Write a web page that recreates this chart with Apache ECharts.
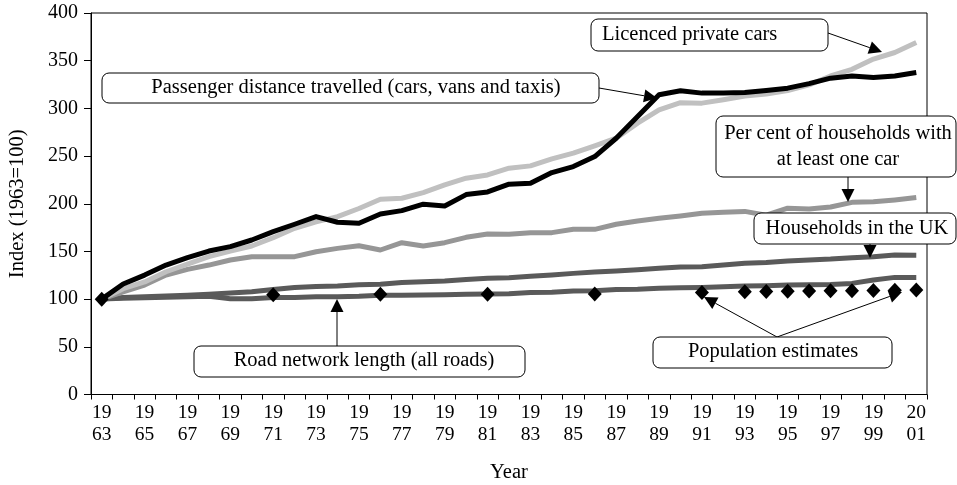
<!DOCTYPE html>
<html><head><meta charset="utf-8">
<script src="https://cdn.jsdelivr.net/npm/echarts@6/dist/echarts.min.js"></script>
<style>html,body{margin:0;padding:0;background:#fff}#c{width:957px;height:485px}</style>
</head><body><div id="c"></div>
<script>
const years = ['1963','1964','1965','1966','1967','1968','1969','1970','1971','1972','1973','1974','1975','1976','1977','1978','1979','1980','1981','1982','1983','1984','1985','1986','1987','1988','1989','1990','1991','1992','1993','1994','1995','1996','1997','1998','1999','2000','2001'];
const licencedCars = [100,111,118,128.7,136.8,144.5,150.4,155.7,164.4,174.3,181,186.5,195,204.7,205.8,211.7,219.7,226.8,230.2,237.3,239.7,247,253,260.7,268.7,284.5,298.5,306,305.5,309,313,315,318.7,324.7,334,341,351.7,358.6,369];
const passengerDistance = [100,115.8,125.2,135.7,143.4,150.4,155,162,170.7,178.5,186.5,180.6,179.5,189.3,192.8,199.5,197.7,209.6,212.4,220.5,221.5,232.7,239,249.5,268.7,291.5,314.2,318.4,316,316,316.7,318.8,321.2,326,331.7,334,332.4,334,337.6];
const carHouseholds = [100,107.7,114.7,125.2,131.2,135.7,141,144.5,144.5,144.5,149.7,153.2,156,151.5,159.2,155.7,159.2,164.8,168.3,168,169.7,169.7,173.2,173.2,178.5,182,184.8,187.2,190,191,192,188,195.3,194.5,196.6,201.5,202,204,206.5];
const householdsUK = [100,101.8,102.5,103.2,104,105,106.3,107.7,110.2,112.3,113.3,113.7,115,115.7,117.5,118.2,119,120.7,122,122.4,123.9,125.3,127,128.4,129.5,130.9,132.3,133.7,134,135.7,137.5,138.5,140,141,142,143.5,144.5,146.2,146];
const roadLength = [100,101,101.5,102,102.5,103,100.3,100.5,101.8,101.8,102.5,102.5,103,104,104,104.3,104.5,105,105.3,105.6,107,107.3,108.5,108.7,110,110.3,111.3,112,112.3,113,113.7,114,114.7,115,115.4,116.5,120,122.8,122.8];
const popYears = ['1963','1971','1976','1981','1986','1991','1993','1994','1995','1996','1997','1998','1999','2000','2001'];
const popValues = [100,104.5,105,105,105.5,107,107.8,108,108.3,108.5,108.7,108.8,109,109.2,109.5];
const yTicks = [0,50,100,150,200,250,300,350,400];

const FONT = '"Liberation Serif", "Times New Roman", serif';
const chart = echarts.init(document.getElementById('c'), null, {renderer:'canvas'});

function lineSeries(name, data, color, z){
  return {name, type:'line', data, symbol:'none', z,
    lineStyle:{color, width:5, join:'round'}, itemStyle:{color}, animation:false};
}

function box(x, y, w, h){
  return {type:'rect', z:100, shape:{x, y, width:w, height:h, r:7},
    style:{fill:'#fff', stroke:'#000', lineWidth:1}};
}
function txt(x, y, text, align){
  return {type:'text', z:101, x, y,
    style:{text, font:'20.5px ' + FONT, fill:'#000',
      align: align || 'center', verticalAlign:'middle',
      textAlign: align || 'center', textVerticalAlign:'middle'}};
}
function arrow(x1, y1, x2, y2){
  const dx = x2 - x1, dy = y2 - y1, len = Math.sqrt(dx*dx + dy*dy);
  const ux = dx/len, uy = dy/len, L = 13, W = 6.5;
  const bx = x2 - ux*L, by = y2 - uy*L;
  return [
    {type:'line', z:100, shape:{x1, y1, x2:bx, y2:by}, style:{stroke:'#000', lineWidth:1}},
    {type:'polygon', z:100, shape:{points:[[x2,y2],[bx - uy*W, by + ux*W],[bx + uy*W, by - ux*W]]},
      style:{fill:'#000'}}
  ];
}

const graphics = [].concat(
  arrow(828, 33, 882, 52),
  [box(591, 19, 237, 32), txt(602, 35, 'Licenced private cars', 'left')],
  arrow(599, 88, 657, 98),
  [box(102, 73, 497, 30), txt(356, 88, 'Passenger distance travelled (cars, vans and taxis)')],
  arrow(848, 177, 848, 202),
  [box(716, 116, 240, 61), txt(838, 134, 'Per cent of households with'), txt(838, 160, 'at least one car')],
  arrow(870, 244, 870, 258),
  [box(754, 213, 202, 31), txt(857, 229, 'Households in the UK')],
  arrow(337, 346, 337, 299),
  [box(194, 346, 331, 31), txt(364, 361, 'Road network length (all roads)')],
  arrow(777, 337, 704, 297),
  arrow(777, 337, 902, 292),
  [box(653, 337, 239, 31), txt(773, 352, 'Population estimates')]
);

chart.setOption({
  animation:false,
  backgroundColor:'#fff',
  grid:{left:91, top:13, width:836, height:381.5, show:true, borderColor:'#000', borderWidth:1,
    containLabel:false, outerBoundsMode:'none'},
  xAxis:{type:'category', data:years, boundaryGap:true,
    name:'Year', nameLocation:'middle', nameGap:68,
    nameTextStyle:{fontFamily:FONT, fontSize:20.5, color:'#000'},
    axisLine:{lineStyle:{color:'#000', width:1}},
    axisTick:{show:true, interval:0, alignWithLabel:false, length:5, lineStyle:{color:'#000'}},
    axisLabel:{interval:1, margin:7, fontFamily:FONT, fontSize:19.5, color:'#000', lineHeight:22,
      formatter:v => v.slice(0,2) + '\n' + v.slice(2)},
    splitLine:{show:false}},
  yAxis:{type:'value', min:yTicks[0], max:yTicks[yTicks.length-1], interval:50,
    name:'Index (1963=100)', nameLocation:'middle', nameGap:63,
    nameTextStyle:{fontFamily:FONT, fontSize:20.5, color:'#000'},
    axisLine:{show:true, lineStyle:{color:'#000', width:1}},
    axisTick:{show:true, length:7, lineStyle:{color:'#000'}},
    axisLabel:{margin:13, fontFamily:FONT, fontSize:20, color:'#000'},
    splitLine:{show:false}},
  series:[
    lineSeries('Road network length (all roads)', roadLength, '#5a5a5a', 2),
    lineSeries('Households in the UK', householdsUK, '#5a5a5a', 3),
    lineSeries('Per cent of households with at least one car', carHouseholds, '#969696', 4),
    lineSeries('Licenced private cars', licencedCars, '#c0c0c0', 5),
    lineSeries('Passenger distance travelled (cars, vans and taxis)', passengerDistance, '#000000', 6),
    {name:'Population estimates', type:'scatter', z:10, symbol:'diamond', symbolSize:[14,15],
      itemStyle:{color:'#000', opacity:1}, data:popYears.map((y,i)=>[y, popValues[i]])}
  ],
  graphic:graphics
});
</script></body></html>
